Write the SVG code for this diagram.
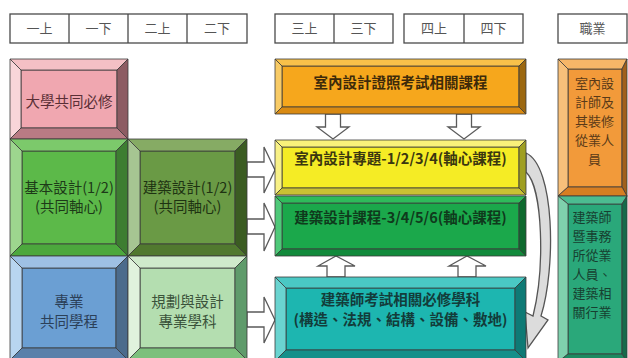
<svg xmlns="http://www.w3.org/2000/svg" width="628" height="358" viewBox="0 0 628 358">
<style>
text{font-family:"Noto Sans CJK TC","Noto Sans CJK SC",sans-serif;text-anchor:middle}
.hd rect{fill:#fff;stroke:#4a4a4a;stroke-width:1.3}
.hd line{stroke:#4a4a4a;stroke-width:1.3}
.hd text{font-size:13px;fill:#555}
.bx polygon,.bx rect{stroke:#3a3a3a;stroke-width:0.8;stroke-linejoin:round}
.t15{font-size:14.5px}
.tb{font-size:14.5px;font-weight:bold}
.vt{font-size:13px}
.arr{fill:#fff;stroke:#5a5a5a;stroke-width:1.3;stroke-linejoin:miter}
.curve{fill:#dcdcdc;stroke:#555;stroke-width:1.3}
</style>

<g id="header" class="hd">
  <rect x="10" y="14" width="237" height="29"/>
  <line x1="69" y1="14" x2="69" y2="43"/>
  <line x1="128" y1="14" x2="128" y2="43"/>
  <line x1="187" y1="14" x2="187" y2="43"/>
  <text x="39.5" y="33">一上</text>
  <text x="98.5" y="33">一下</text>
  <text x="157.5" y="33">二上</text>
  <text x="217" y="33">二下</text>
  <rect x="275" y="14" width="118" height="29"/>
  <line x1="334" y1="14" x2="334" y2="43"/>
  <text x="304.5" y="33">三上</text>
  <text x="363.5" y="33">三下</text>
  <rect x="404" y="14" width="119" height="29"/>
  <line x1="464" y1="14" x2="464" y2="43"/>
  <text x="434" y="33">四上</text>
  <text x="493.5" y="33">四下</text>
  <rect x="558" y="14" width="69" height="29"/>
  <text x="592.5" y="33">職業</text>
</g>

<g id="connectors">
  <!-- down arrows -->
  <path class="arr" d="M325.5,114 L340.5,114 L340.5,127 L349,127 L333,139 L317,127 L325.5,127 Z"/>
  <path class="arr" d="M456.5,114 L471.5,114 L471.5,127 L480,127 L464,139 L448,127 L456.5,127 Z"/>
  <!-- up arrows -->
  <path class="arr" d="M327,277 L345,277 L345,266 L355,266 L336,256 L318,266 L327,266 Z"/>
  <path class="arr" d="M458,277 L476,277 L476,266 L486,266 L467,256 L449,266 L458,266 Z"/>
  <!-- right arrows -->
  <path class="arr" d="M247,162 L264,162 L264,147 L275,170 L264,193 L264,177 L247,177 Z"/>
  <path class="arr" d="M247,219 L264,219 L264,203 L275,227 L264,251 L264,234 L247,234 Z"/>
  <path class="arr" d="M247,312 L264,312 L264,297 L275,320 L264,343 L264,327 L247,327 Z"/>
  <!-- curved arrow -->
  <path class="curve" d="M526,153 C555,166 556,268 541,316 L548,320 L528,348 L525,312 L533,316 C545,268 543,188 526,172 Z"/>
</g>

<g id="n-daxue" class="bx">
  <rect x="21" y="70" width="96" height="58" fill="#f0a7b0"/>
  <polygon points="10,59 128,59 117,70 21,70" fill="#f4c0c5"/>
  <polygon points="10,59 21,70 21,128 10,139" fill="#f8d5d9"/>
  <polygon points="128,59 128,139 117,128 117,70" fill="#8d5c63"/>
  <polygon points="10,139 21,128 117,128 128,139" fill="#b97b84"/>
  <text class="t15" x="69" y="107" fill="#5a2f36">大學共同必修</text>
</g>

<g id="n-jiben" class="bx">
  <rect x="22" y="151" width="94" height="93" fill="#5cb949"/>
  <polygon points="10,139 128,139 116,151 22,151" fill="#7cc96b"/>
  <polygon points="10,139 22,151 22,244 10,256" fill="#9dd68e"/>
  <polygon points="128,139 128,256 116,244 116,151" fill="#3d7d31"/>
  <polygon points="10,256 22,244 116,244 128,256" fill="#4ca83d"/>
  <text class="t15" x="69" y="193" fill="#1d3a18">基本設計(1/2)</text>
  <text class="t15" x="69" y="212" fill="#1d3a18">(共同軸心)</text>
</g>

<g id="n-jianzhu" class="bx">
  <rect x="140" y="151" width="95" height="93" fill="#6a9a45"/>
  <polygon points="128,139 247,139 235,151 140,151" fill="#86ab64"/>
  <polygon points="128,139 140,151 140,244 128,256" fill="#a6c592"/>
  <polygon points="247,139 247,256 235,244 235,151" fill="#3b5c22"/>
  <polygon points="128,256 140,244 235,244 247,256" fill="#51792f"/>
  <text class="t15" x="187.5" y="193" fill="#1e3312">建築設計(1/2)</text>
  <text class="t15" x="187.5" y="212" fill="#1e3312">(共同軸心)</text>
</g>

<g id="n-zhuanye" class="bx">
  <rect x="22" y="268" width="94" height="80" fill="#6b9fd3"/>
  <polygon points="10,256 128,256 116,268 22,268" fill="#9ec0e4"/>
  <polygon points="10,256 22,268 22,348 10,360" fill="#b8d5f0"/>
  <polygon points="128,256 128,360 116,348 116,268" fill="#4b6b8c"/>
  <polygon points="10,360 22,348 116,348 128,360" fill="#5a80aa"/>
  <text class="t15" x="69" y="307" fill="#2b4058">專業</text>
  <text class="t15" x="69" y="327" fill="#2b4058">共同學程</text>
</g>

<g id="n-guihua" class="bx">
  <rect x="140" y="268" width="95" height="80" fill="#b4deb0"/>
  <polygon points="128,256 247,256 235,268 140,268" fill="#cfeacb"/>
  <polygon points="128,256 140,268 140,348 128,360" fill="#e0f2dd"/>
  <polygon points="247,256 247,360 235,348 235,268" fill="#5f9b6b"/>
  <polygon points="128,360 140,348 235,348 247,360" fill="#7cc07c"/>
  <text class="t15" x="187.5" y="307" fill="#3a523a">規劃與設計</text>
  <text class="t15" x="187.5" y="327" fill="#3a523a">專業學科</text>
</g>

<g id="n-zhengzhao" class="bx">
  <rect x="282" y="66" width="237" height="41" fill="#f6a71c"/>
  <polygon points="275,59 526,59 519,66 282,66" fill="#f9c14a"/>
  <polygon points="275,59 282,66 282,107 275,114" fill="#f8cb66"/>
  <polygon points="526,59 526,114 519,107 519,66" fill="#9c6811"/>
  <polygon points="275,114 282,107 519,107 526,114" fill="#d98a12"/>
  <text class="tb" x="400.5" y="88" fill="#3d2a0a">室內設計證照考試相關課程</text>
</g>

<g id="n-zhuanti" class="bx">
  <rect x="282" y="147" width="237" height="41" fill="#f5ec25"/>
  <polygon points="275,140 526,140 519,147 282,147" fill="#f9f17a"/>
  <polygon points="275,140 282,147 282,188 275,195" fill="#f8f186"/>
  <polygon points="526,140 526,195 519,188 519,147" fill="#9f9f22"/>
  <polygon points="275,195 282,188 519,188 526,195" fill="#c9c133"/>
  <text class="tb" x="400.5" y="164" fill="#3a3610">室內設計專題-1/2/3/4(軸心課程)</text>
</g>

<g id="n-kecheng" class="bx">
  <rect x="282" y="203" width="237" height="46" fill="#1ba84b"/>
  <polygon points="275,196 526,196 519,203 282,203" fill="#2fbb5b"/>
  <polygon points="275,196 282,203 282,249 275,256" fill="#4fc979"/>
  <polygon points="526,196 526,256 519,249 519,203" fill="#0e6a2e"/>
  <polygon points="275,256 282,249 519,249 526,256" fill="#128a3b"/>
  <text class="tb" x="400.5" y="223" fill="#0f3a1c">建築設計課程-3/4/5/6(軸心課程)</text>
</g>

<g id="n-kaoshi" class="bx">
  <rect x="286" y="288" width="229" height="62" fill="#1db6b0"/>
  <polygon points="275,277 526,277 515,288 286,288" fill="#4ac8c4"/>
  <polygon points="275,277 286,288 286,350 275,361" fill="#6ad4d0"/>
  <polygon points="526,277 526,361 515,350 515,288" fill="#0e7a75"/>
  <polygon points="275,361 286,350 515,350 526,361" fill="#14908a"/>
  <text class="tb" x="400.5" y="305" fill="#133c3a">建築師考試相關必修學科</text>
  <text class="tb" x="400.5" y="325" fill="#133c3a">(構造、法規、結構、設備、敷地)</text>
</g>

<g id="n-shinei" class="bx">
  <rect x="568" y="69" width="54" height="118" fill="#f29a3a"/>
  <polygon points="558,59 627,59 622,69 568,69" fill="#f6b668"/>
  <polygon points="558,59 568,69 568,187 558,196" fill="#f7c07a"/>
  <polygon points="627,59 627,196 622,187 622,69" fill="#a0601c"/>
  <polygon points="558,196 568,187 622,187 627,196" fill="#d67e22"/>
  <g class="vt" fill="#5a3a18">
    <text x="594.5" y="88">室內設</text>
    <text x="594.5" y="107">計師及</text>
    <text x="594.5" y="126">其裝修</text>
    <text x="594.5" y="145">從業人</text>
    <text x="594.5" y="164">員</text>
  </g>
</g>

<g id="n-jianzhushi" class="bx">
  <rect x="568" y="204" width="54" height="150" fill="#2aa87a"/>
  <polygon points="558,196 627,196 622,204 568,204" fill="#4cbc91"/>
  <polygon points="558,196 568,204 568,354 558,362" fill="#7fd0ad"/>
  <polygon points="627,196 627,362 622,354 622,204" fill="#156a4a"/>
  <polygon points="558,362 568,354 622,354 627,362" fill="#1b8a60"/>
  <g class="vt" fill="#173f30">
    <text x="592" y="222">建築師</text>
    <text x="592" y="241">暨事務</text>
    <text x="592" y="260">所從業</text>
    <text x="592" y="279">人員、</text>
    <text x="592" y="298">建築相</text>
    <text x="592" y="317">關行業</text>
  </g>
</g>
</svg>
